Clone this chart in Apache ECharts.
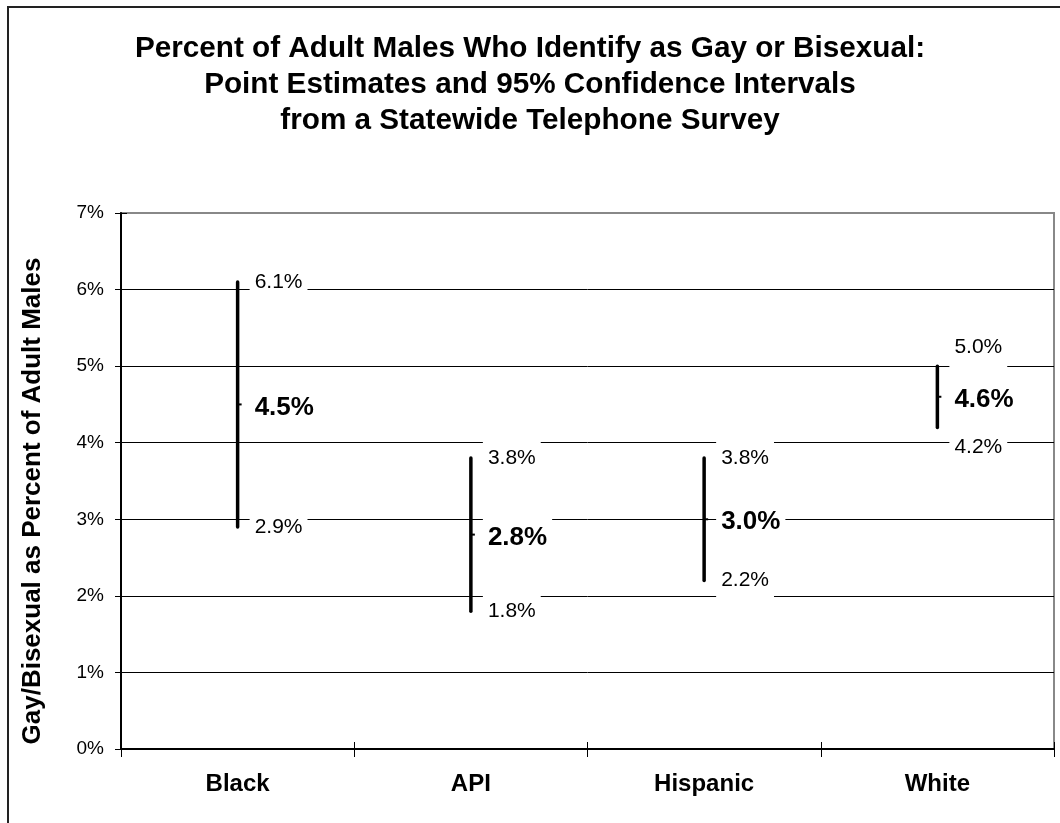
<!DOCTYPE html>
<html>
<head>
<meta charset="utf-8">
<script src="https://cdn.jsdelivr.net/npm/echarts@6/dist/echarts.min.js"></script>
<style>
  html, body { margin: 0; padding: 0; background: #fff; }
  #chart { width: 1060px; height: 823px; }
</style>
</head>
<body>
<div id="chart"></div>
<script>
// Survey groups and their estimates (percent of adult males)
const categories = ['Black', 'API', 'Hispanic', 'White'];
const pointEstimates = [4.5, 2.8, 3.0, 4.6];
const lowerBounds = [2.9, 1.8, 2.2, 4.2];
const upperBounds = [6.1, 3.8, 3.8, 5.0];
const yAxisMin = 0;
const yAxisMax = 7;
const yAxisStep = 1;

const FONT = '"Liberation Sans", Arial, sans-serif';

const seriesData = categories.map((c, i) => [i, lowerBounds[i], upperBounds[i], pointEstimates[i]]);

function fmt(v) { return v.toFixed(1) + '%'; }

function renderInterval(params, api) {
  const i = api.value(0);
  const lo = api.value(1), hi = api.value(2), mid = api.value(3);
  const pLo = api.coord([i, lo]);
  const pHi = api.coord([i, hi]);
  const pMid = api.coord([i, mid]);
  const x = pLo[0];
  // keep the end labels clear of the bold estimate label
  const yHiLabel = Math.min(pHi[1], pMid[1] - 50);
  const yLoLabel = Math.max(pLo[1], pMid[1] + 50);
  const labelX = x + 12;
  const endLabel = (txt, y) => ({
    type: 'text',
    style: {
      text: txt, x: labelX, y: y, align: 'left', verticalAlign: 'middle',
      font: '21px ' + FONT, fill: '#000',
      backgroundColor: '#fff', padding: [10, 5]
    }
  });
  return {
    type: 'group',
    children: [
      endLabel(fmt(hi), yHiLabel),
      endLabel(fmt(lo), yLoLabel),
      {
        type: 'text',
        style: {
          text: fmt(mid), x: labelX, y: pMid[1] + 3, align: 'left', verticalAlign: 'middle',
          font: 'bold 26px ' + FONT, fill: '#000',
          backgroundColor: '#fff', padding: [10, 5]
        }
      },
      {
        type: 'line',
        shape: { x1: x, y1: pLo[1], x2: x, y2: pHi[1] },
        style: { stroke: '#000', lineWidth: 3.5, lineCap: 'round' }
      },
      {
        type: 'line',
        shape: { x1: x, y1: pMid[1], x2: x + 4, y2: pMid[1] },
        style: { stroke: '#000', lineWidth: 2 }
      }
    ]
  };
}

const chart = echarts.init(document.getElementById('chart'), null, { renderer: 'canvas' });

chart.setOption({
  animation: false,
  backgroundColor: '#fff',
  title: {
    text: 'Percent of Adult Males Who Identify as Gay or Bisexual:\nPoint Estimates and 95% Confidence Intervals\nfrom a Statewide Telephone Survey',
    left: 'center',
    top: 26,
    textStyle: { fontFamily: FONT, fontWeight: 'bold', fontSize: 29.7, lineHeight: 36, color: '#000' }
  },
  graphic: [
    {
      type: 'rect',
      shape: { x: 8, y: 7, width: 1100, height: 900 },
      style: { fill: 'none', stroke: '#222', lineWidth: 2 },
      silent: true
    },
    {
      type: 'text',
      x: 33, y: 501, rotation: Math.PI / 2,
      style: {
        text: 'Gay/Bisexual as Percent of Adult Males',
        align: 'center', verticalAlign: 'middle',
        font: 'bold 26px ' + FONT, fill: '#000'
      }
    }
  ],
  grid: {
    left: 121, top: 213, right: 6, bottom: 74,
    show: true, borderColor: '#888', borderWidth: 2, backgroundColor: '#fff'
  },
  xAxis: [
    {
      type: 'category',
      data: categories,
      boundaryGap: true,
      axisLine: { lineStyle: { color: '#000', width: 2 } },
      axisTick: { show: true, length: 8, lineStyle: { color: '#000', width: 1 } },
      axisLabel: { fontFamily: FONT, fontWeight: 'bold', fontSize: 24, color: '#000', margin: 23 }
    },
    {
      // inner half of the crossing tick marks
      type: 'category',
      data: categories,
      position: 'bottom',
      boundaryGap: true,
      axisLine: { show: false },
      axisTick: { show: true, inside: true, length: 7, lineStyle: { color: '#000', width: 1 } },
      axisLabel: { show: false },
      splitLine: { show: false }
    }
  ],
  yAxis: [
    {
      type: 'value',
      min: yAxisMin, max: yAxisMax, interval: yAxisStep,
      axisLine: { show: true, lineStyle: { color: '#000', width: 2 } },
      axisTick: { show: true, length: 6, lineStyle: { color: '#000', width: 1 } },
      axisLabel: { fontFamily: FONT, fontSize: 19, color: '#000', margin: 17, formatter: '{value}%' },
      splitLine: { show: true, showMaxLine: false, lineStyle: { color: '#000', width: 1 } }
    },
    {
      type: 'value',
      position: 'left',
      min: yAxisMin, max: yAxisMax, interval: yAxisStep,
      axisLine: { show: false },
      axisTick: { show: true, inside: true, length: 6, lineStyle: { color: '#000', width: 1 } },
      axisLabel: { show: false },
      splitLine: { show: false }
    }
  ],
  series: [{
    type: 'custom',
    renderItem: renderInterval,
    data: seriesData,
    encode: { x: 0, y: [1, 2, 3] },
    clip: false
  }]
});
</script>
</body>
</html>
